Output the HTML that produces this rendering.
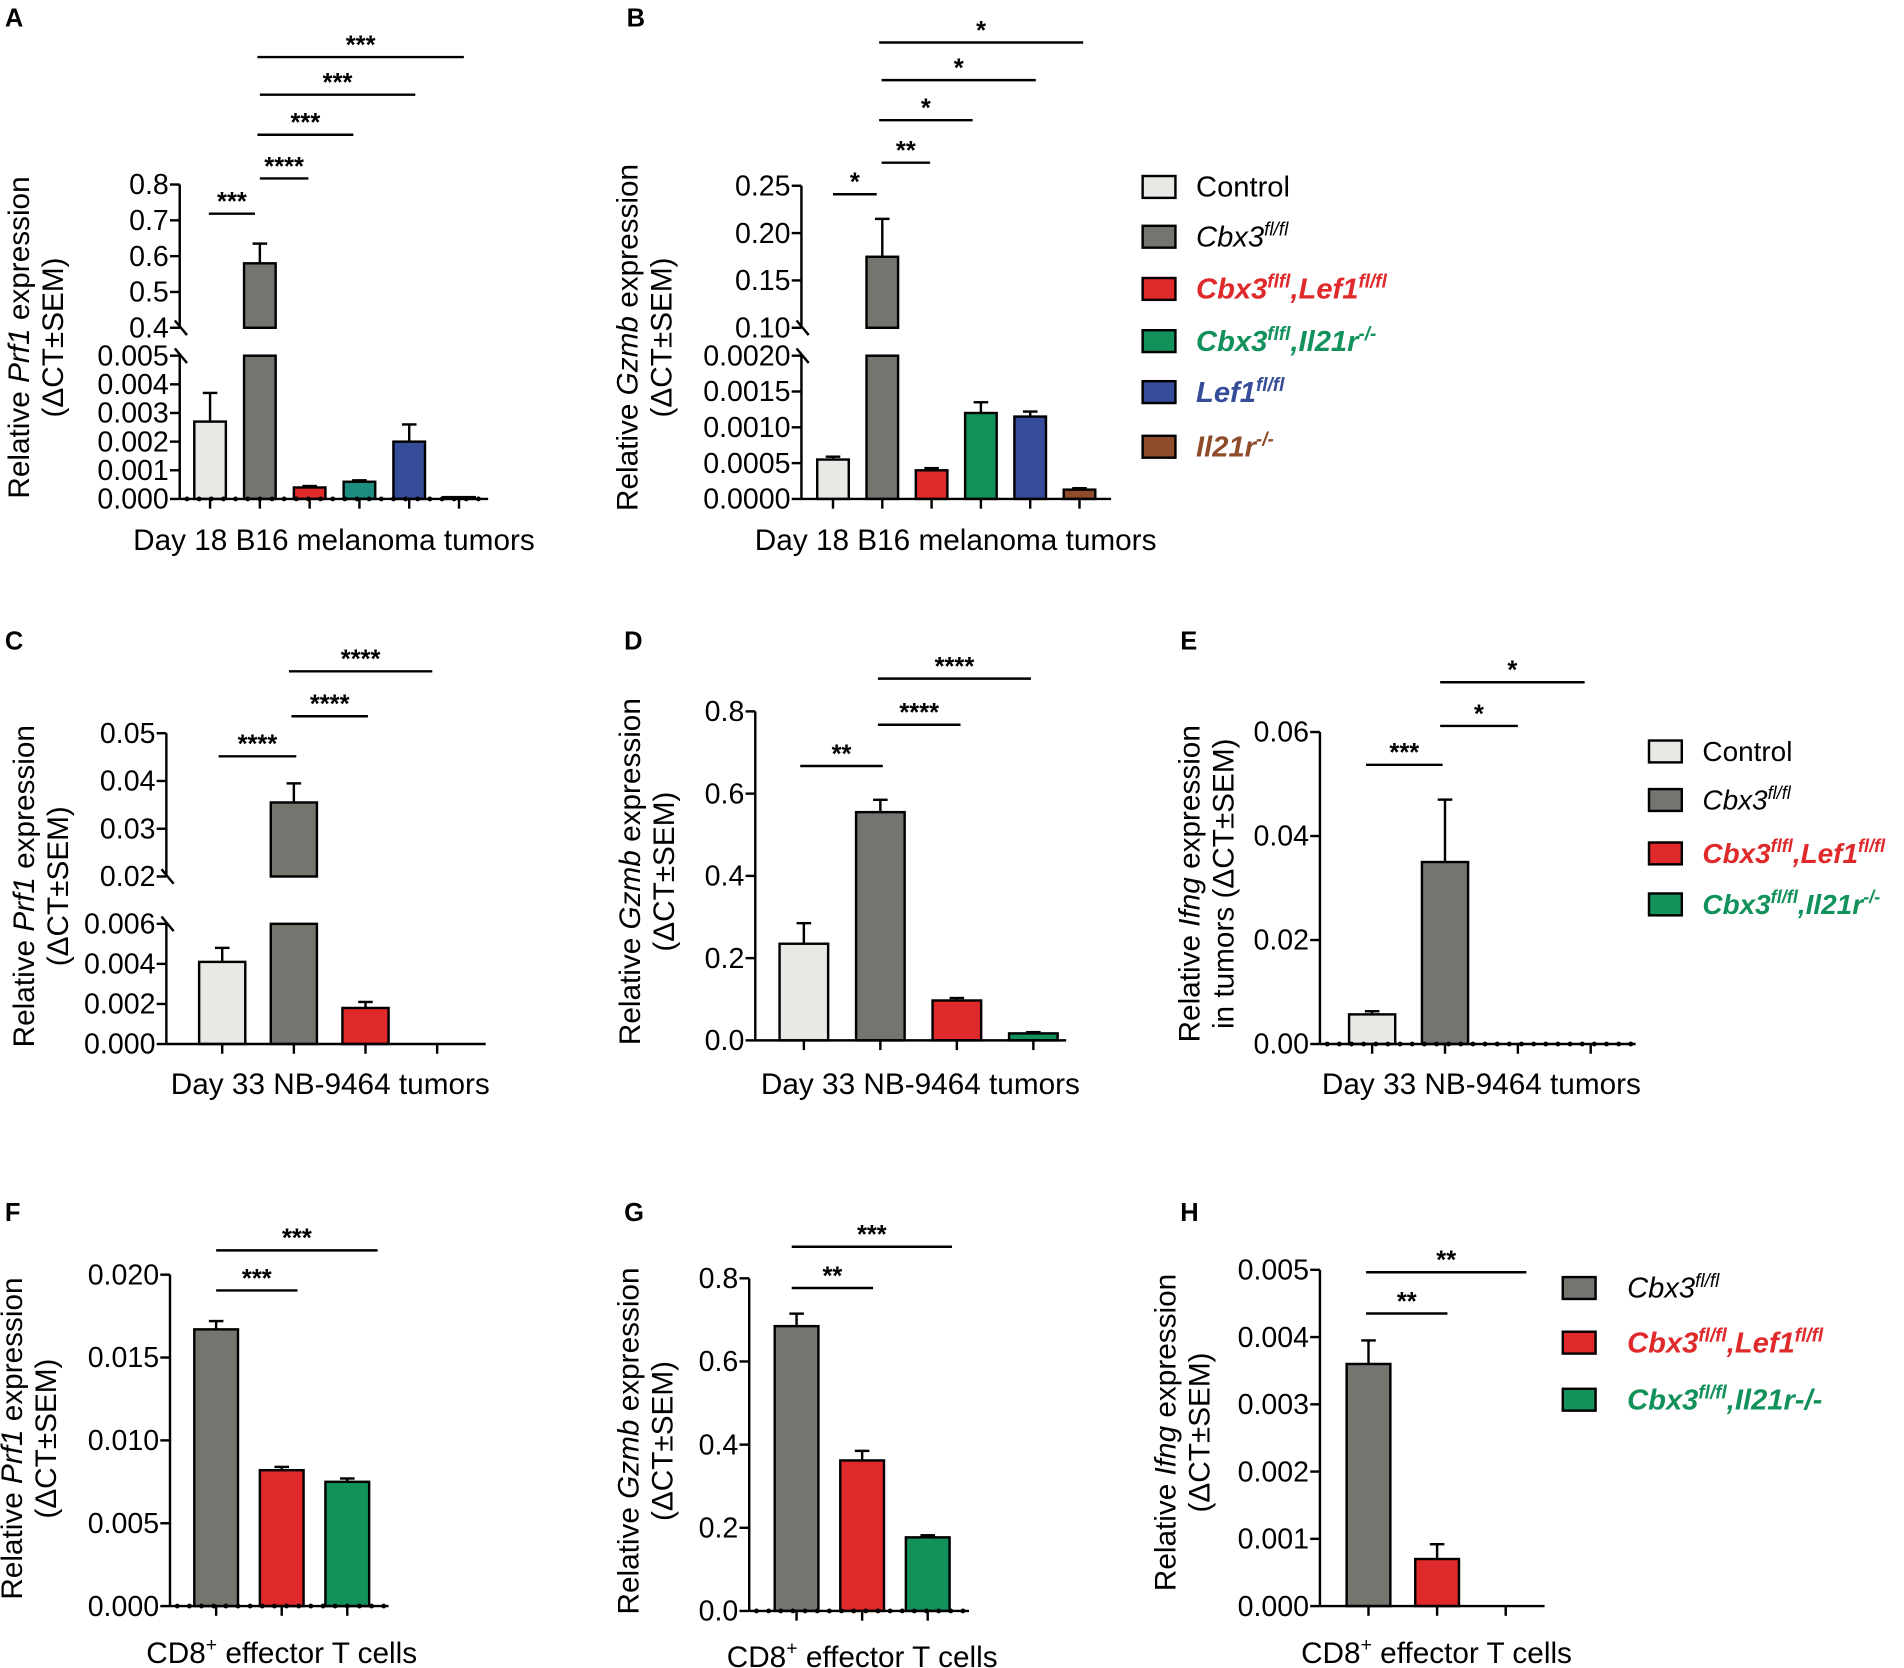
<!DOCTYPE html>
<html><head><meta charset="utf-8"><style>
html,body{margin:0;padding:0;background:#fff;}
svg{display:block;font-family:"Liberation Sans",Arial,sans-serif;}
</style></head><body>
<svg id="fig" xmlns="http://www.w3.org/2000/svg" width="1904" height="1668" viewBox="0 0 1568 1374" preserveAspectRatio="none"></svg>
<script>
// ---- Data ----
const aCats=["Control","Cbx3fl/fl","Cbx3,Lef1","Cbx3,Il21r","Lef1","Il21r"];
const aVals=[0.0027,0.58,0.0004,0.0006,0.002,0.00005];
const aErr=[0.001,0.055,0.00005,0.00005,0.0006,0];
const aTicksLow=[0,0.001,0.002,0.003,0.004,0.005];
const aTicksHigh=[0.4,0.5,0.6,0.7,0.8];
const aTickLabelsLow=["0.000","0.001","0.002","0.003","0.004","0.005"];
const aTickLabelsHigh=["0.4","0.5","0.6","0.7","0.8"];

const bVals=[0.00055,0.175,0.0004,0.0012,0.00115,0.00013];
const bErr=[0.00004,0.04,0.00003,0.00015,0.00007,0.00002];
const bTicksLow=[0,0.0005,0.001,0.0015,0.002];
const bTicksHigh=[0.10,0.15,0.20,0.25];
const bTickLabelsLow=["0.0000","0.0005","0.0010","0.0015","0.0020"];
const bTickLabelsHigh=["0.10","0.15","0.20","0.25"];

const cVals=[0.0041,0.0355,0.0018];
const cErr=[0.0007,0.004,0.0003];
const cTicksLow=[0,0.002,0.004,0.006];
const cTicksHigh=[0.02,0.03,0.04,0.05];
const cTickLabelsLow=["0.000","0.002","0.004","0.006"];
const cTickLabelsHigh=["0.02","0.03","0.04","0.05"];

const dVals=[0.235,0.555,0.097,0.017];
const dErr=[0.05,0.03,0.006,0.003];
const dTicks=[0,0.2,0.4,0.6,0.8];
const dTickLabels=["0.0","0.2","0.4","0.6","0.8"];

const eVals=[0.0057,0.035];
const eErr=[0.0006,0.012];
const eTicks=[0,0.02,0.04,0.06];
const eTickLabels=["0.00","0.02","0.04","0.06"];

const fVals=[0.0167,0.0082,0.0075];
const fErr=[0.0005,0.0002,0.0002];
const fTicks=[0,0.005,0.01,0.015,0.02];
const fTickLabels=["0.000","0.005","0.010","0.015","0.020"];

const gVals=[0.685,0.362,0.177];
const gErr=[0.03,0.023,0.005];
const gTicks=[0,0.2,0.4,0.6,0.8];
const gTickLabels=["0.0","0.2","0.4","0.6","0.8"];

const hVals=[0.0036,0.0007];
const hErr=[0.00035,0.00022];
const hTicks=[0,0.001,0.002,0.003,0.004,0.005];
const hTickLabels=["0.000","0.001","0.002","0.003","0.004","0.005"];

// ---- Drawing ----
const NS="http://www.w3.org/2000/svg";
const svg=document.getElementById('fig');
const COL={ctrl:"#e6e9e4",cbx:"#74756e",red:"#e0292b",teal:"#1b8c7e",green:"#12925a",blue:"#364c98",brown:"#8e4c2b"};
const TF=23.5, LF=24.5;
function el(tag,attrs,parent){const e=document.createElementNS(NS,tag);for(const k in attrs)e.setAttribute(k,attrs[k]);(parent||svg).appendChild(e);return e;}
function txt(x,y,s,attrs,parent){const t=el('text',Object.assign({x:x,y:y},attrs),parent);t.textContent=s;return t;}
function lin(v0,v1,y0,y1){return v=>y0+(v-v0)/(v1-v0)*(y1-y0);}

function panel(cfg){
  const g=el('g',{});
  
  
  let y, lowMax=Infinity, yLowTop, yHighBot;
  if(cfg.broken){
    const lo=lin(cfg.low[0],cfg.low[1],cfg.yBase,cfg.yLowTop);
    const hi=lin(cfg.high[0],cfg.high[1],cfg.yHighBot,cfg.yHighTop);
    lowMax=cfg.low[1]; yLowTop=cfg.yLowTop; yHighBot=cfg.yHighBot;
    y=v=>v<=lowMax?lo(v):hi(v);
  } else {
    y=lin(cfg.domain[0],cfg.domain[1],cfg.yBase,cfg.yTop);
  }
  const xc=i=>cfg.x0+i*cfg.step;
  const ax=cfg.axisX;
  const axisG=el('g',{},g);
  
  
  if(cfg.broken){
    el('line',{x1:ax,y1:cfg.yBase,x2:ax,y2:cfg.yLowTop,stroke:'#000','stroke-width':2},axisG);
    el('line',{x1:ax,y1:cfg.yHighBot,x2:ax,y2:cfg.yHighTop,stroke:'#000','stroke-width':2},axisG);
    el('line',{x1:ax-4,y1:cfg.yHighBot-6,x2:ax+6,y2:cfg.yHighBot+6,stroke:'#000','stroke-width':2},axisG);
    el('line',{x1:ax-4,y1:cfg.yLowTop-6,x2:ax+6,y2:cfg.yLowTop+6,stroke:'#000','stroke-width':2},axisG);
  } else {
    el('line',{x1:ax,y1:cfg.yBase,x2:ax,y2:cfg.yTop,stroke:'#000','stroke-width':2},axisG);
  }
  const tickSets=cfg.broken?[[cfg.ticksLow,cfg.labelsLow],[cfg.ticksHigh,cfg.labelsHigh]]:[[cfg.ticks,cfg.labels]];
  tickSets.forEach(([tk,lb])=>{
    tk.forEach((v,i)=>{
      const yy=y(v);
      el('line',{x1:ax-8,y1:yy,x2:ax,y2:yy,stroke:'#000','stroke-width':2},axisG);
      const t=txt(ax-9,yy+8,lb[i],{'text-anchor':'end','font-size':TF},axisG);
      
      
    });
  });
  cfg.vals.forEach((v,i)=>{
    const cx=xc(i), w=cfg.bw, col=cfg.colors[i];
    const bg=el('g',{},g);
    
    
    const top=v+cfg.err[i];
    if(cfg.err[i]>0){
      el('line',{x1:cx,y1:y(v),x2:cx,y2:y(top),stroke:'#000','stroke-width':2},bg);
      el('line',{x1:cx-6,y1:y(top),x2:cx+6,y2:y(top),stroke:'#000','stroke-width':2},bg);
    }
    if(v>lowMax){
      el('rect',{x:cx-w/2,y:yLowTop,width:w,height:cfg.yBase-yLowTop,fill:col,stroke:'#000','stroke-width':2},bg);
      el('rect',{x:cx-w/2,y:y(v),width:w,height:yHighBot-y(v),fill:col,stroke:'#000','stroke-width':2},bg);
    } else {
      const h=Math.max(cfg.yBase-y(v),1.5);
      el('rect',{x:cx-w/2,y:cfg.yBase-h,width:w,height:h,fill:col,stroke:'#000','stroke-width':2},bg);
    }
  });
  const xg=el('g',{},g);
  
  
  el('line',{x1:ax,y1:cfg.yBase,x2:cfg.axisEnd,y2:cfg.yBase,stroke:'#000','stroke-width':2},xg);
  if(cfg.dotted){
    for(let x=ax+6;x<cfg.axisEnd;x+=10) el('circle',{cx:x,cy:cfg.yBase,r:2,fill:'#000'},xg);
  }
  for(let i=0;i<cfg.nTicks;i++) el('line',{x1:xc(i),y1:cfg.yBase,x2:xc(i),y2:cfg.yBase+8,stroke:'#000','stroke-width':2},xg);
  const xl=txt(cfg.xlabX,cfg.xlabY,'',{'text-anchor':'middle','font-size':LF},g);
  
  
  cfg.xlab.forEach(p=>{const s=el('tspan',p[1]==='sup'?{'font-size':16,dy:-10}:(p[1]==='after'?{'font-size':LF,dy:10}:{}),xl);s.textContent=p[0];});
  const yl=el('g',{transform:`translate(${cfg.ylX},${cfg.ylY}) rotate(-90)`},g);
  
  
  const l1=txt(0,0,'',{'text-anchor':'middle','font-size':LF},yl);
  cfg.yl1.forEach(p=>{const s=el('tspan',p[1]?{'font-style':'italic'}:{},l1);s.textContent=p[0];});
  txt(0,28,cfg.yl2,{'text-anchor':'middle','font-size':LF},yl);
  cfg.sig.forEach(s=>{
    const sg=el('g',{},g);
    
    
    el('line',{x1:s[0],y1:s[2],x2:s[1],y2:s[2],stroke:'#000','stroke-width':2},sg);
    txt((s[0]+s[1])/2,s[2]-3,s[3],{'text-anchor':'middle','font-size':21,'font-weight':'bold'},sg);
  });
  const L=txt(cfg.letter[1],cfg.letter[2],cfg.letter[0],{'font-size':21,'font-weight':'bold'},g);
  
  
}

const C6=[COL.ctrl,COL.cbx,COL.red,COL.teal,COL.blue,COL.brown];
const C6b=[COL.ctrl,COL.cbx,COL.red,COL.green,COL.blue,COL.brown];
panel({name:'panel-a',broken:true,low:[0,0.005],high:[0.4,0.8],yBase:411,yLowTop:293,yHighBot:270,yHighTop:152,
  ticksLow:aTicksLow,labelsLow:aTickLabelsLow,ticksHigh:aTicksHigh,labelsHigh:aTickLabelsHigh,
  vals:aVals,err:aErr,colors:C6,x0:173,step:41,bw:26,nTicks:6,axisX:148,axisEnd:402,dotted:true,
  xlab:[["Day 18 B16 melanoma tumors"]],xlabX:275,xlabY:453,ylX:24,ylY:278,yl1:[["Relative "],["Prf1",1],[" expression"]],yl2:"(ΔCT±SEM)",
  sig:[[172,210,176,"***"],[214,254,147,"****"],[212,291,111,"***"],[214,342,78,"***"],[212,382,47,"***"]],letter:["A",4,22]});
panel({name:'panel-b',broken:true,low:[0,0.002],high:[0.10,0.25],yBase:411,yLowTop:293,yHighBot:270,yHighTop:153,
  ticksLow:bTicksLow,labelsLow:bTickLabelsLow,ticksHigh:bTicksHigh,labelsHigh:bTickLabelsHigh,
  vals:bVals,err:bErr,colors:C6b,x0:686,step:40.6,bw:26,nTicks:6,axisX:660,axisEnd:915,dotted:false,
  xlab:[["Day 18 B16 melanoma tumors"]],xlabX:787,xlabY:453,ylX:525,ylY:278,yl1:[["Relative "],["Gzmb",1],[" expression"]],yl2:"(ΔCT±SEM)",
  sig:[[686,722,160,"*"],[726,766,134,"**"],[724,801,99,"*"],[726,853,66,"*"],[724,892,35,"*"]],letter:["B",516,22]});
panel({name:'panel-c',broken:true,low:[0,0.006],high:[0.02,0.05],yBase:860,yLowTop:761,yHighBot:722,yHighTop:604,
  ticksLow:cTicksLow,labelsLow:cTickLabelsLow,ticksHigh:cTicksHigh,labelsHigh:cTickLabelsHigh,
  vals:cVals,err:cErr,colors:[COL.ctrl,COL.cbx,COL.red],x0:183,step:59,bw:38,nTicks:4,axisX:137,axisEnd:400,dotted:false,
  xlab:[["Day 33 NB-9464 tumors"]],xlabX:272,xlabY:901,ylX:28,ylY:730,yl1:[["Relative "],["Prf1",1],[" expression"]],yl2:"(ΔCT±SEM)",
  sig:[[180,244,623,"****"],[240,303,590,"****"],[238,356,553,"****"]],letter:["C",4,535]});
panel({name:'panel-d',broken:false,domain:[0,0.8],yBase:857,yTop:586,ticks:dTicks,labels:dTickLabels,
  vals:dVals,err:dErr,colors:[COL.ctrl,COL.cbx,COL.red,COL.green],x0:662,step:63,bw:40,nTicks:4,axisX:622,axisEnd:878,dotted:false,
  xlab:[["Day 33 NB-9464 tumors"]],xlabX:758,xlabY:901,ylX:527,ylY:718,yl1:[["Relative "],["Gzmb",1],[" expression"]],yl2:"(ΔCT±SEM)",
  sig:[[659,727,631,"**"],[723,791,597,"****"],[723,849,559,"****"]],letter:["D",514,535]});
panel({name:'panel-e',broken:false,domain:[0,0.06],yBase:860,yTop:603,ticks:eTicks,labels:eTickLabels,
  vals:eVals,err:eErr,colors:[COL.ctrl,COL.cbx],x0:1130,step:60,bw:38,nTicks:4,axisX:1087,axisEnd:1347,dotted:true,
  xlab:[["Day 33 NB-9464 tumors"]],xlabX:1220,xlabY:901,ylX:988,ylY:728,yl1:[["Relative "],["Ifng",1],[" expression"]],yl2:"in tumors (ΔCT±SEM)",
  sig:[[1125,1188,630,"***"],[1186,1250,598,"*"],[1186,1305,562,"*"]],letter:["E",972,535]});
panel({name:'panel-f',broken:false,domain:[0,0.02],yBase:1323,yTop:1050,ticks:fTicks,labels:fTickLabels,
  vals:fVals,err:fErr,colors:[COL.cbx,COL.red,COL.green],x0:178,step:54,bw:36,nTicks:3,axisX:140,axisEnd:320,dotted:true,
  xlab:[["CD8"],["+","sup"],[" effector T cells","after"]],xlabX:232,xlabY:1370,ylX:18,ylY:1185,yl1:[["Relative "],["Prf1",1],[" expression"]],yl2:"(ΔCT±SEM)",
  sig:[[178,245,1063,"***"],[178,311,1030,"***"]],letter:["F",4,1006]});
panel({name:'panel-g',broken:false,domain:[0,0.8],yBase:1327,yTop:1053,ticks:gTicks,labels:gTickLabels,
  vals:gVals,err:gErr,colors:[COL.cbx,COL.red,COL.green],x0:656,step:54,bw:36,nTicks:3,axisX:617,axisEnd:798,dotted:true,
  xlab:[["CD8"],["+","sup"],[" effector T cells","after"]],xlabX:710,xlabY:1373,ylX:526,ylY:1187,yl1:[["Relative "],["Gzmb",1],[" expression"]],yl2:"(ΔCT±SEM)",
  sig:[[652,719,1061,"**"],[652,784,1027,"***"]],letter:["G",514,1006]});
panel({name:'panel-h',broken:false,domain:[0,0.005],yBase:1323,yTop:1046,ticks:hTicks,labels:hTickLabels,
  vals:hVals,err:hErr,colors:[COL.cbx,COL.red],x0:1127,step:56.5,bw:36,nTicks:3,axisX:1087,axisEnd:1272,dotted:false,
  xlab:[["CD8"],["+","sup"],[" effector T cells","after"]],xlabX:1183,xlabY:1370,ylX:968,ylY:1180,yl1:[["Relative "],["Ifng",1],[" expression"]],yl2:"(ΔCT±SEM)",
  sig:[[1125,1192,1082,"**"],[1125,1257,1048,"**"]],letter:["H",972,1006]});

function legend(name,x,tx,rows,fs){
  const g=el('g',{});
  
  
  rows.forEach(r=>{
    const eg=el('g',{},g);
    
    
    el('rect',{x:x,y:r.y-9,width:27,height:18,fill:r.fill,stroke:'#000','stroke-width':2},eg);
    const t=txt(tx,r.y+8,'',{'font-size':fs,fill:r.color,'font-style':r.parts.length>1||r.italic?'italic':'normal','font-weight':r.bold?'bold':'normal'},eg);
    r.parts.forEach(p=>{const s=el('tspan',p[1]?{'font-size':fs*0.65,dy:-9}:{dy:p[2]||0},t);s.textContent=p[0];});
  });
}
legend('legend-top',941,985,[
  {y:154,fill:COL.ctrl,color:'#000',parts:[["Control"]]},
  {y:195,fill:COL.cbx,color:'#000',italic:1,parts:[["Cbx3"],["fl/fl",1]]},
  {y:238,fill:COL.red,color:COL.red,bold:1,parts:[["Cbx3"],["flfl",1],[",Lef1",0,9],["fl/fl",1]]},
  {y:281,fill:COL.green,color:COL.green,bold:1,parts:[["Cbx3"],["flfl",1],[",Il21r",0,9],["-/-",1]]},
  {y:323,fill:COL.blue,color:COL.blue,bold:1,parts:[["Lef1"],["fl/fl",1]]},
  {y:368,fill:COL.brown,color:COL.brown,bold:1,parts:[["Il21r"],["-/-",1]]}],24);
legend('legend-middle',1358,1402,[
  {y:619,fill:COL.ctrl,color:'#000',parts:[["Control"]]},
  {y:659,fill:COL.cbx,color:'#000',italic:1,parts:[["Cbx3"],["fl/fl",1]]},
  {y:703,fill:COL.red,color:COL.red,bold:1,parts:[["Cbx3"],["flfl",1],[",Lef1",0,9],["fl/fl",1]]},
  {y:745,fill:COL.green,color:COL.green,bold:1,parts:[["Cbx3"],["fl/fl",1],[",Il21r",0,9],["-/-",1]]}],23);
legend('legend-bottom',1287,1340,[
  {y:1061,fill:COL.cbx,color:'#000',italic:1,parts:[["Cbx3"],["fl/fl",1]]},
  {y:1106,fill:COL.red,color:COL.red,bold:1,parts:[["Cbx3"],["fl/fl",1],[",Lef1",0,9],["fl/fl",1]]},
  {y:1153,fill:COL.green,color:COL.green,bold:1,parts:[["Cbx3"],["fl/fl",1],[",Il21r-/-",0,9]]}],24);
</script>
</body></html>
